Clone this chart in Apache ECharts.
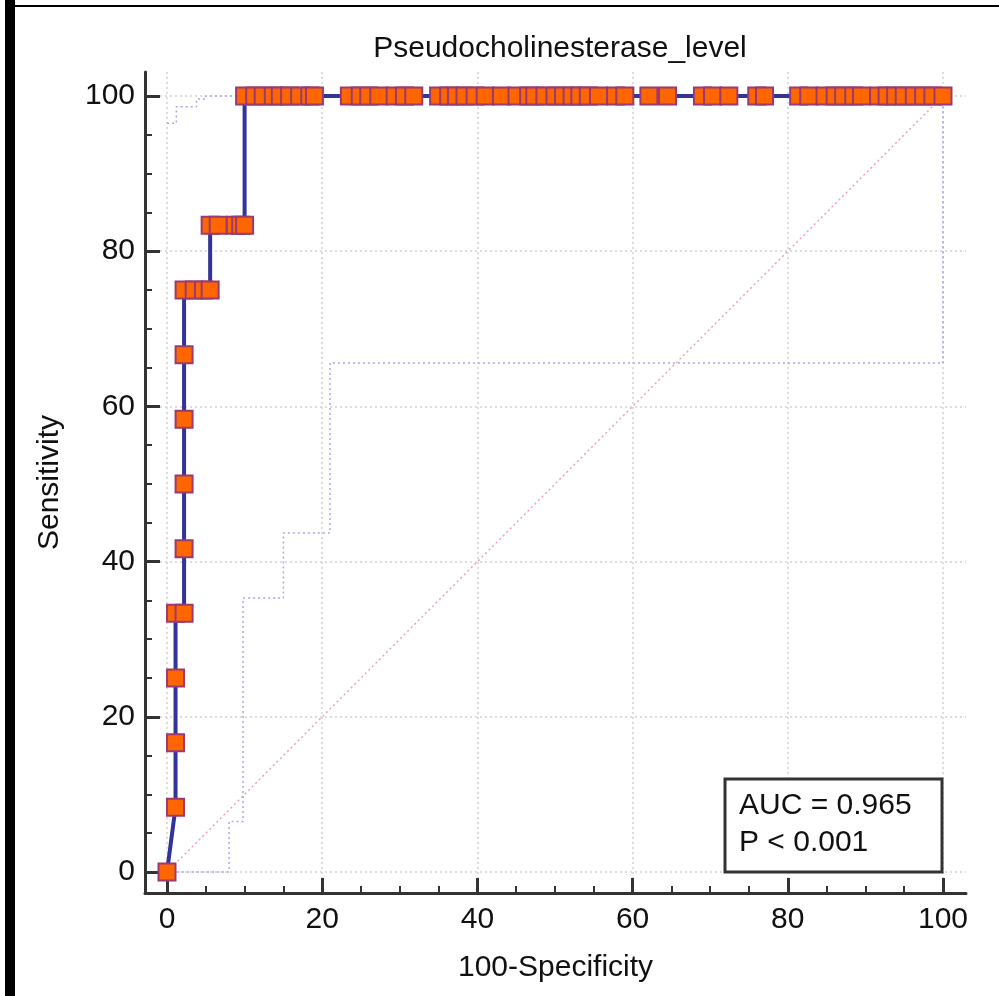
<!DOCTYPE html>
<html>
<head>
<meta charset="utf-8">
<script src="https://cdn.jsdelivr.net/npm/echarts@6/dist/echarts.min.js"></script>
<style>
html,body{margin:0;padding:0;background:#fff;}
#chart{width:999px;height:996px;}
</style>
</head>
<body>
<div id="chart"></div>
<script>
// ---- data ----
const chartTitle = 'Pseudocholinesterase_level';
const xName = '100-Specificity';
const yName = 'Sensitivity';
const majorTicks = [0, 20, 40, 60, 80, 100];
const minorTicks = [5, 10, 15, 25, 30, 35, 45, 50, 55, 65, 70, 75, 85, 90, 95];

const rocFpr = [0,
  1.1, 1.1, 1.1, 1.1,
  2.2, 2.2, 2.2, 2.2, 2.2, 2.2,
  3.5, 4.7, 5.56,
  5.56, 6.6, 8.8, 9.5, 10,
  10, 11.3, 12.4, 13.7, 14.6, 15.8, 17.1, 18.4, 19.0,
  23.5, 24.9, 26.0, 27.3, 29.4, 30.6, 31.8,
  35.0, 36.3, 37.3, 38.4, 39.7, 41.0, 43.1, 45.1, 46.6, 47.4, 48.7, 50.0, 51.1, 52.2, 53.2, 54.3, 55.6, 57.8, 59.0,
  62.1, 64.5,
  69.0, 70.3, 72.4,
  76.0, 77.0,
  81.4, 82.7, 84.8, 86.1, 87.2, 88.5, 89.5, 91.7, 92.8, 93.9, 95.0, 96.3, 97.5, 98.7, 100];
const rocSens = [0,
  8.33, 16.67, 25, 33.33,
  33.33, 41.67, 50, 58.33, 66.67, 75,
  75, 75, 75,
  83.33, 83.33, 83.33, 83.33, 83.33,
  100, 100, 100, 100, 100, 100, 100, 100, 100,
  100, 100, 100, 100, 100, 100, 100,
  100, 100, 100, 100, 100, 100, 100, 100, 100, 100, 100, 100, 100, 100, 100, 100, 100, 100, 100,
  100, 100,
  100, 100, 100,
  100, 100,
  100, 100, 100, 100, 100, 100, 100, 100, 100, 100, 100, 100, 100, 100, 100];

const lowerFpr  = [0, 8, 8, 9.8, 9.8, 15, 15, 21, 21, 100, 100];
const lowerSens = [0, 0, 6.5, 6.5, 35.3, 35.3, 43.7, 43.7, 65.6, 65.6, 100];
const upperFpr  = [0, 1.2, 1.2, 3.8, 3.8, 5, 5, 100];
const upperSens = [96.5, 96.5, 98.6, 98.6, 99.6, 99.6, 100, 100];
const diagFpr  = [0, 100];
const diagSens = [0, 100];

const aucText = 'AUC = 0.965';
const pText = 'P < 0.001';

// ---- chart ----
const pair = (xs, ys) => xs.map((x, i) => [x, ys[i]]);
const FONT = 'Liberation Sans, Arial, sans-serif';
const FS = 30;
const axisColor = '#333333';

const chart = echarts.init(document.getElementById('chart'), null, {renderer: 'canvas'});

const baseX = {
  type: 'value', min: -2.835, max: 102.964, position: 'bottom'
};
const baseY = {
  type: 'value', min: -2.706, max: 103.09, position: 'left'
};

chart.setOption({
  animation: false,
  backgroundColor: '#ffffff',
  title: {
    text: chartTitle, left: 555, top: 29, textAlign: 'center',
    textStyle: {fontFamily: FONT, fontSize: FS, fontWeight: 'normal', color: '#111'}
  },
  grid: {left: 145, top: 72, width: 821, height: 821, containLabel: false},
  xAxis: [
    Object.assign({}, baseX, {
      name: xName, nameLocation: 'middle', nameGap: 60,
      nameTextStyle: {fontFamily: FONT, fontSize: FS, color: '#111'},
      axisLine: {show: true, onZero: false, lineStyle: {color: axisColor, width: 3}},
      axisTick: {show: true, inside: true, length: 15, customValues: majorTicks, lineStyle: {color: axisColor, width: 3}},
      axisLabel: {show: true, customValues: majorTicks, margin: 12, fontFamily: FONT, fontSize: FS, color: '#111'},
      splitLine: {show: true, lineStyle: {color: '#d2d2d2', width: 1.5, type: [2, 3]}}
    }),
    Object.assign({}, baseX, {
      axisLine: {show: false, onZero: false},
      axisTick: {show: true, inside: true, length: 7, customValues: minorTicks, lineStyle: {color: axisColor, width: 2}},
      axisLabel: {show: false},
      splitLine: {show: false}
    })
  ],
  yAxis: [
    Object.assign({}, baseY, {
      name: yName, nameLocation: 'middle', nameGap: 80,
      nameTextStyle: {fontFamily: FONT, fontSize: FS, color: '#111'},
      axisLine: {show: true, onZero: false, lineStyle: {color: axisColor, width: 3}},
      axisTick: {show: true, inside: true, length: 15, customValues: majorTicks, lineStyle: {color: axisColor, width: 3}},
      axisLabel: {show: true, customValues: majorTicks, margin: 10, fontFamily: FONT, fontSize: FS, color: '#111'},
      splitLine: {show: true, lineStyle: {color: '#d2d2d2', width: 1.5, type: [2, 3]}}
    }),
    Object.assign({}, baseY, {
      axisLine: {show: false, onZero: false},
      axisTick: {show: true, inside: true, length: 7, customValues: minorTicks, lineStyle: {color: axisColor, width: 2}},
      axisLabel: {show: false},
      splitLine: {show: false}
    })
  ],
  series: [
    {
      name: 'diag', type: 'line', data: pair(diagFpr, diagSens), showSymbol: false, silent: true, z: 1,
      lineStyle: {color: '#e8a6b0', width: 1.5, type: [2, 3]}
    },
    {
      name: 'lower', type: 'line', data: pair(lowerFpr, lowerSens), showSymbol: false, silent: true, z: 1,
      lineStyle: {color: '#a8a8e6', width: 1.5, type: [2, 3]}
    },
    {
      name: 'upper', type: 'line', data: pair(upperFpr, upperSens), showSymbol: false, silent: true, z: 1,
      lineStyle: {color: '#a8a8e6', width: 1.5, type: [2, 3]}
    },
    {
      name: 'roc', type: 'line', data: pair(rocFpr, rocSens), z: 5,
      symbol: 'rect', symbolSize: 17, showAllSymbol: true,
      lineStyle: {color: '#333399', width: 4},
      itemStyle: {color: '#ff6600', borderColor: '#9a3a70', borderWidth: 2}
    }
  ],
  graphic: [
    {type: 'rect', shape: {x: 5, y: 0, width: 10, height: 996}, style: {fill: '#000'}, z: 100},
    {type: 'rect', shape: {x: 5, y: 5, width: 994, height: 2}, style: {fill: '#000'}, z: 100},
    {type: 'rect', shape: {x: 725, y: 779, width: 217, height: 93}, style: {fill: '#fff', stroke: '#333', lineWidth: 3}, z: 100},
    {type: 'text', x: 739, y: 806, style: {text: aucText, font: FS + 'px ' + FONT, fill: '#111', verticalAlign: 'middle'}, z: 101},
    {type: 'text', x: 739, y: 843, style: {text: pText, font: FS + 'px ' + FONT, fill: '#111', verticalAlign: 'middle'}, z: 101}
  ]
});
</script>
</body>
</html>
